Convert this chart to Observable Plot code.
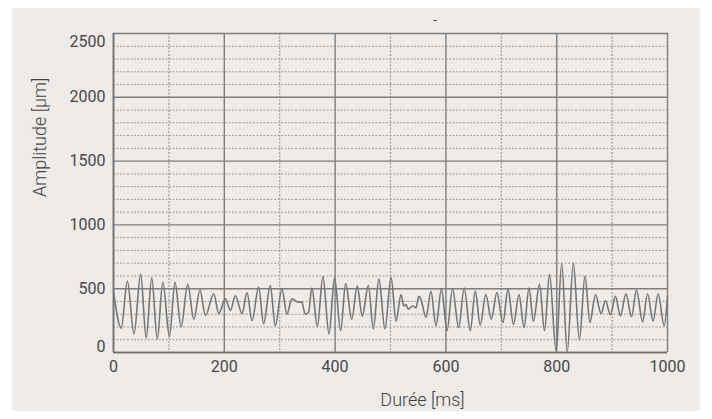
<!DOCTYPE html>
<html>
<head>
<meta charset="utf-8">
<script src="https://cdn.jsdelivr.net/npm/d3@7"></script>
<script src="https://cdn.jsdelivr.net/npm/@observablehq/plot@0.6"></script>
<style>
  html, body { margin: 0; padding: 0; background: #ffffff; }
  #panel { position: absolute; left: 12px; top: 8px; width: 688px; height: 403px; background: #eeebe9; }
</style>
</head>
<body>
<div id="panel"></div>
<script>
// Durée [ms] of each peak / trough
const time = [0, 14, 25, 37, 49, 59, 69, 79, 89, 101,
  111, 122, 134, 145, 156, 166, 181, 190, 202, 211,
  220, 232, 241, 250, 262, 271, 283, 292, 304, 313,
  322, 328, 334, 340, 346, 352, 358, 368, 378, 389,
  399, 410, 419, 430, 440, 449, 460, 469, 479, 490,
  501, 510, 519, 524, 528, 532, 540, 546, 551, 555,
  564, 573, 582, 592, 602, 612, 623, 633, 644, 653,
  662, 672, 682, 692, 703, 712, 722, 732, 741, 750,
  758, 769, 778, 787, 799, 809, 819, 830, 841, 851,
  860, 870, 880, 888, 897, 906, 915, 925, 935, 944,
  955, 964, 974, 983, 994, 1000];
// Amplitude [µm]
const amplitude = [480, 190, 560, 145, 615, 115, 585, 105, 550, 125,
  550, 200, 535, 260, 490, 290, 460, 305, 420, 330,
  445, 305, 470, 250, 510, 225, 525, 210, 500, 300,
  420, 405, 395, 395, 300, 315, 505, 205, 595, 145,
  585, 170, 540, 260, 520, 285, 525, 185, 575, 185,
  590, 245, 455, 365, 375, 340, 365, 350, 440, 415,
  275, 480, 210, 500, 170, 500, 195, 505, 170, 480,
  215, 455, 260, 470, 235, 495, 220, 455, 195, 505,
  245, 535, 170, 610, 10, 700, 5, 700, 100, 600,
  235, 455, 305, 405, 295, 440, 288, 460, 280, 490,
  240, 460, 245, 460, 210, 440];

const xTicks = [0, 200, 400, 600, 800, 1000];
const yTicks = [0, 500, 1000, 1500, 2000, 2500];
const xLabel = "Durée [ms]";
const yLabel = "Amplitude [µm]";
const title = "-";

const data = time.map((t, i) => ({t, a: amplitude[i]}));
const xMinor = d3.range(100, 1000, 200);
const yMinor = d3.range(0, 2501, 100).filter(v => v % 500 !== 0);

const font = "Roboto, 'DejaVu Sans', sans-serif";
const tickColor = "#474747";

const chart = Plot.plot({
  width: 688,
  height: 403,
  marginLeft: 101,
  marginRight: 33,
  marginTop: 25,
  marginBottom: 59,
  x: {domain: [0, 1000], axis: null},
  y: {domain: [0, 2500], axis: null},
  style: {background: "transparent", fontFamily: font, overflow: "visible"},
  marks: [
    Plot.ruleY(yMinor, {stroke: "#9c9c9c", strokeWidth: 1, strokeDasharray: "2,1.5"}),
    Plot.ruleX(xMinor, {stroke: "#9c9c9c", strokeWidth: 1.2, strokeDasharray: "2,1.5"}),
    Plot.ruleY(yTicks, {stroke: "#7e7e7e", strokeWidth: 1.4}),
    Plot.ruleX(xTicks, {stroke: "#7e7e7e", strokeWidth: 1.4}),
    Plot.ruleY([0], {stroke: "#6f6f6f", strokeWidth: 1.6}),
    Plot.ruleX([0], {stroke: "#6f6f6f", strokeWidth: 1.6}),
    Plot.line(data, {x: "t", y: "a", curve: "monotone-x", stroke: "#757575", strokeWidth: 1.6}),
    // y tick labels
    Plot.text(yTicks.filter(v => v !== 0 && v !== 2500), {y: d => d, text: d => String(d), frameAnchor: "left", textAnchor: "end", dx: -8, fontSize: 16, fill: tickColor}),
    Plot.text([2500], {y: d => d, text: d => String(d), frameAnchor: "left", textAnchor: "end", dx: -8, dy: 8, fontSize: 16, fill: tickColor}),
    Plot.text([0], {y: d => d, text: d => String(d), frameAnchor: "left", textAnchor: "end", dx: -8, dy: -6, fontSize: 16, fill: tickColor}),
    // x tick labels
    Plot.text(xTicks, {x: d => d, text: d => String(d), frameAnchor: "bottom", lineAnchor: "middle", dy: 14, fontSize: 16, fill: tickColor}),
    // axis titles
    Plot.text([xLabel], {frameAnchor: "bottom", text: d => d, lineAnchor: "middle", dx: 32, dy: 48, fontSize: 18, fill: "#3f3f3f", fontWeight: 300}),
    Plot.text([yLabel], {frameAnchor: "left", text: d => d, rotate: -90, dx: -73, dy: 4, fontSize: 18, fill: "#3f3f3f", fontWeight: 300}),
    Plot.text([title], {frameAnchor: "top-left", text: d => d, dx: 320, dy: -18, fontSize: 12, fill: "#333"})
  ]
});
document.getElementById("panel").appendChild(chart);
</script>
</body>
</html>
